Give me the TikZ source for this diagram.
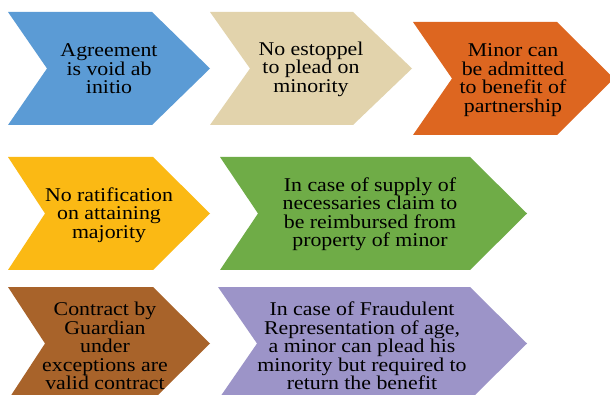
\documentclass[tikz,border=0pt]{standalone}
\usepackage{fontspec}
\setmainfont{Liberation Serif}[FakeStretch=1.12]
\definecolor{cblue}{HTML}{5B9BD5}
\definecolor{cbeige}{HTML}{E2D3AC}
\definecolor{corange}{HTML}{DD6620}
\definecolor{cyellow}{HTML}{FBB914}
\definecolor{cgreen}{HTML}{6FAC47}
\definecolor{cbrown}{HTML}{A8632A}
\definecolor{cpurple}{HTML}{9C94C8}
\tikzset{
  lbl/.style={align=center, text=black, font=\fontsize{19.5}{18.5}\selectfont, inner sep=0pt},
}
\newcommand{\chev}[7]{% color, left, right-top, tip, notch, top, bottom
  \fill[#1] (#2,#6) -- (#3,#6) -- (#4,{(#6+#7)/2}) -- (#3,#7) -- (#2,#7) -- (#5,{(#6+#7)/2}) -- cycle;}
\begin{document}
\begin{tikzpicture}[x=1pt,y=-1pt]
\useasboundingbox (0,0) rectangle (610,395);
\fill[white] (0,0) rectangle (610,395);
\chev{cblue}{8}{152}{210}{47}{12}{125}
\chev{cbeige}{210}{353}{412}{250}{12}{125}
\chev{corange}{413}{557}{614}{452}{22}{135}
\chev{cyellow}{8}{153}{210}{45}{157}{270}
\chev{cgreen}{220}{470}{527}{258}{157}{270}
\chev{cbrown}{8}{153}{210}{45}{287}{400}
\chev{cpurple}{218}{470}{527}{257}{287}{400}
\node[lbl] (t1) at (109,69) {Agreement\\is void ab\\initio};
\node[lbl] (t2) at (311,69) {No estoppel\\to plead on\\minority};
\node[lbl] (t3) at (513,80) {Minor can\\be admitted\\to benefit of\\partnership};
\node[lbl] (t4) at (109,215) {No ratification\\on attaining\\majority};
\node[lbl] (t5) at (370,214) {In case of supply of\\necessaries claim to\\be reimbursed from\\property of minor};
\node[lbl] (t6) at (105,346) {Contract by\\Guardian\\under\\exceptions are\\valid contract};
\node[lbl] (t7) at (362,346) {In case of Fraudulent\\Representation of age,\\a minor can plead his\\minority but required to\\return the benefit};
\end{tikzpicture}
\end{document}
